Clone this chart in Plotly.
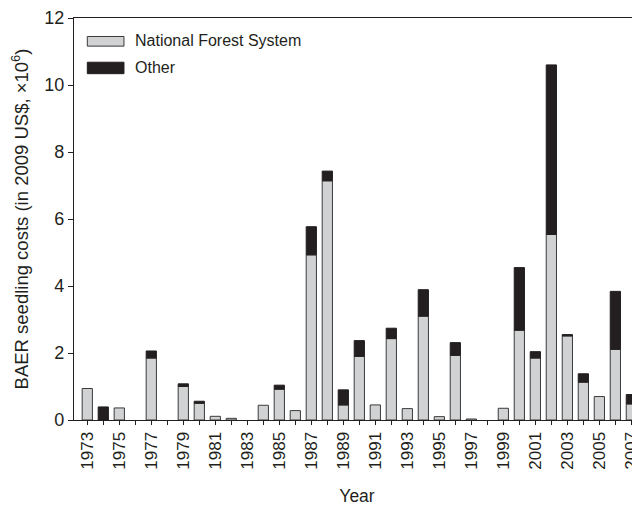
import plotly.graph_objects as go

years = list(range(1973, 2008))
nfs = [0.94, 0.0, 0.36, 0.0, 1.85, 0.0, 1.00, 0.50, 0.11, 0.05, 0.0, 0.44,
       0.92, 0.28, 4.93, 7.14, 0.45, 1.90, 0.45, 2.43, 0.34, 3.10, 0.10,
       1.93, 0.03, 0.0, 0.35, 2.68, 1.85, 5.54, 2.51, 1.13, 0.70, 2.11, 0.48]
other = [0.0, 0.39, 0.0, 0.0, 0.21, 0.0, 0.08, 0.06, 0.0, 0.0, 0.0, 0.0,
         0.12, 0.0, 0.84, 0.29, 0.45, 0.47, 0.0, 0.31, 0.0, 0.79, 0.0,
         0.38, 0.0, 0.0, 0.0, 1.87, 0.19, 5.06, 0.04, 0.25, 0.0, 1.73, 0.28]
label_years = years[::2]
tick_text = [str(y) for y in label_years]
y_ticks = [0, 2, 4, 6, 8, 10, 12]

GRAY = "#d1d2d4"
BLACK = "#231f20"
EDGE = "#3a3a3a"
FONT = "Liberation Sans, Arial, sans-serif"
TXT = "#231f20"

nfs_show = [v if v > 0 else None for v in nfs]
other_show = [v if v > 0 else None for v in other]

fig = go.Figure()
fig.add_trace(go.Bar(x=years, y=nfs_show, name="National Forest System",
                     marker=dict(color=GRAY, line=dict(color=EDGE, width=1)),
                     width=0.64, showlegend=False))
fig.add_trace(go.Bar(x=years, y=other_show, base=nfs, name="Other",
                     marker=dict(color=BLACK, line=dict(color=BLACK, width=1)),
                     width=0.64, showlegend=False))

# custom legend
fig.add_shape(type="rect", xref="paper", yref="paper", x0=0.0235, x1=0.0883,
              y0=0.930, y1=0.954, fillcolor=GRAY, line=dict(color=EDGE, width=1))
fig.add_shape(type="rect", xref="paper", yref="paper", x0=0.0235, x1=0.0883,
              y0=0.8615, y1=0.890, fillcolor=BLACK, line=dict(color=BLACK, width=1))
fig.add_annotation(xref="paper", yref="paper", x=0.1037, y=0.943, xanchor="left",
                   yanchor="middle", text="National Forest System", showarrow=False,
                   font=dict(family=FONT, size=16, color=TXT))
fig.add_annotation(xref="paper", yref="paper", x=0.1037, y=0.876, xanchor="left",
                   yanchor="middle", text="Other", showarrow=False,
                   font=dict(family=FONT, size=16, color=TXT))

fig.update_layout(
    width=640, height=506,
    margin=dict(l=66, r=8, t=9.5, b=93.5),
    plot_bgcolor="white", paper_bgcolor="white",
    barmode="overlay",
    font=dict(family=FONT, size=16, color=TXT),
    xaxis=dict(range=[1972.17, 2007.54], tickmode="array", tickvals=label_years,
               ticktext=tick_text, tickangle=-90, ticks="outside", ticklen=4,
               tickwidth=1, tickcolor="#231f20", showline=True, linecolor="#231f20",
               linewidth=1.2, mirror=True, showgrid=False, zeroline=False,
               minor=dict(tickmode="linear", tick0=1973, dtick=1, ticks="outside",
                          ticklen=4, tickwidth=1, tickcolor="#231f20", showgrid=False),
               automargin=False, tickfont=dict(size=17),
               title=dict(text="Year", standoff=21, font=dict(size=17.5))),
    yaxis=dict(range=[0, 12], tickvals=y_ticks, ticks="outside", ticklen=5,
               tickwidth=1, tickcolor="#231f20", showline=True, linecolor="#231f20",
               linewidth=1.2, showgrid=False, zeroline=False, automargin=False,
               tickfont=dict(size=18),
               title=dict(text="BAER seedling costs (in 2009 US$, ×10<sup>6</sup>)",
                          standoff=12, font=dict(size=18.5))),
)

fig.write_html("out.html")
